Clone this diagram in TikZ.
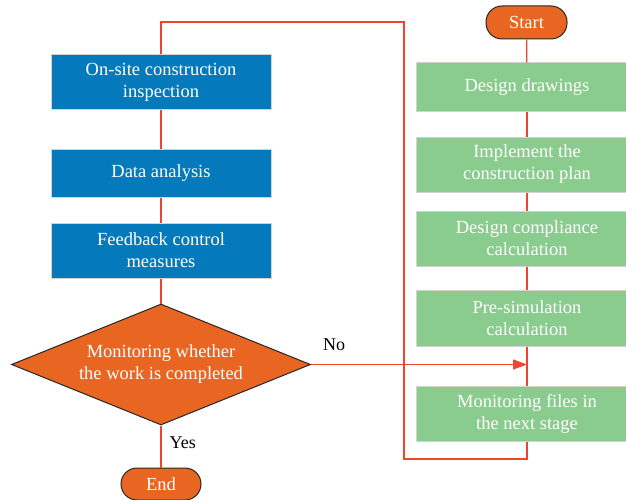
\documentclass[tikz,border=0pt]{standalone}
\usepackage{fontspec}
\setmainfont{Liberation Serif}
\usetikzlibrary{shapes.geometric,arrows.meta}
\definecolor{bluebox}{RGB}{4,122,188}
\definecolor{greenbox}{RGB}{138,203,142}
\definecolor{orangeshape}{RGB}{232,102,33}
\definecolor{redline}{RGB}{238,68,48}
\definecolor{boxborder}{RGB}{210,210,210}
\tikzset{
  bluestep/.style={draw=boxborder, line width=1pt, fill=bluebox, text=white, minimum width=220pt, align=center, font=\fontsize{18.5}{22}\selectfont, inner sep=0pt},
  greenstep/.style={draw=boxborder, line width=1pt, fill=greenbox, text=white, minimum width=222pt, align=center, font=\fontsize{18.5}{22}\selectfont, inner sep=0pt},
  pill/.style={draw=black!85, line width=1pt, fill=orangeshape, text=white, rounded corners=16pt, font=\fontsize{18.5}{22}\selectfont, inner sep=0pt},
  decision/.style={diamond, draw=black!85, line width=1pt, fill=orangeshape, text=white, align=center, inner sep=0pt, minimum width=299pt, minimum height=121pt, aspect=2.47, font=\fontsize{18.5}{22}\selectfont},
  conn/.style={draw=redline, line width=1.2pt},
  lbl/.style={text=black, font=\fontsize{18}{22}\selectfont, inner sep=0pt}
}
\begin{document}
\begin{tikzpicture}[x=1pt,y=-1pt]
\useasboundingbox (0,0) rectangle (626,500);
\clip (0,0) rectangle (626,500);
% left column
\node[bluestep, minimum height=55pt] (b1) at (161,82.5) {On-site construction\\inspection};
\node[bluestep, minimum height=48pt] (b2) at (161,173) {Data analysis};
\node[bluestep, minimum height=55pt] (b3) at (161,250.5) {Feedback control\\measures};
\node[decision] (dia) at (161,364.5) {Monitoring whether\\the work is completed};
\node[pill, minimum width=80pt, minimum height=32pt] (end) at (161,484) {End};
% right column
\node[pill, minimum width=81pt, minimum height=33pt] (start) at (526.5,22.5) {Start};
\node[greenstep, minimum height=49pt] (g1) at (527,87.5) {Design drawings};
\node[greenstep, minimum height=55pt] (g2) at (527,164.5) {Implement the\\construction plan};
\node[greenstep, minimum height=55pt] (g3) at (527,238.5) {Design compliance\\calculation};
\node[greenstep, minimum height=56pt] (g4) at (527,318) {Pre-simulation\\calculation};
\node[greenstep, minimum height=55pt] (g5) at (527,413.5) {Monitoring files in\\the next stage};
\coordinate (join) at (527,364.5);
\coordinate (loopA) at (161,22);
\coordinate (loopB) at (404,22);
\coordinate (loopC) at (404,459);
\coordinate (loopD) at (527,459);
% connectors
\draw[conn] (start) -- (g1);
\draw[conn] (g1) -- (g2);
\draw[conn] (g2) -- (g3);
\draw[conn] (g3) -- (g4);
\draw[conn] (g4) -- (g5);
\draw[conn] (b1) -- (b2);
\draw[conn] (b2) -- (b3);
\draw[conn] (b3) -- (dia);
\draw[conn] (dia) -- node[lbl, pos=0.4, right=8pt] {Yes} (end);
\draw[conn, -{Triangle[length=14pt,width=10pt]}] (dia.east) -- (join);
\node[lbl] (no) at (334,345) {No};
\draw[conn] (b1.north) -- (loopA) -- (loopB) -- (loopC) -- (loopD) -- (g5.south);
\end{tikzpicture}
\end{document}
